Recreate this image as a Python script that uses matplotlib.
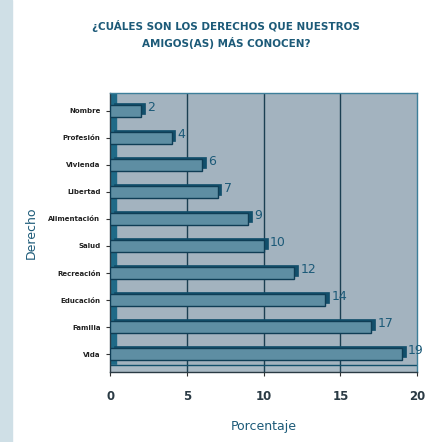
import numpy as np
import matplotlib.pyplot as plt
from matplotlib.patches import Rectangle

# data
derechos = ['Nombre', 'Profesión', 'Vivienda', 'Libertad', 'Alimentación',
            'Salud', 'Recreación', 'Educación', 'Familia', 'Vida']
porcentaje = [2, 4, 6, 7, 9, 10, 12, 14, 17, 19]

bg = '#a3b3bf'
face = '#5e8ea3'
dark = '#124f6b'
text_col = '#1c5a78'

fig = plt.figure(figsize=(4.27, 4.42), dpi=100)
fig.patch.set_facecolor('white')
# light strip on the left edge
fig.patches.append(Rectangle((0, 0), 12 / 427, 1, transform=fig.transFigure,
                             color='#cfdfe6', zorder=0))

ax = fig.add_axes([0.258, 0.158, 0.719, 0.632])
ax.set_facecolor(bg)

y = np.arange(len(derechos))
ax.set_xlim(0, 20)
ax.set_ylim(9.67, -0.67)

# left wall and floor
ax.axvspan(0, 0.4, color='#1f6a87', zorder=1)
ax.axhspan(9.42, 9.67, color='#a9b9c4', zorder=1)
ax.axhline(9.42, color=dark, lw=1.0, zorder=2)

# vertical gridlines
for gx in [5, 10, 15]:
    ax.axvline(gx, color='#1b3f52', lw=1.0, zorder=1)

# 3D depth (top/right side) then front face
ax.barh(y - 0.1, porcentaje, left=0.25, height=0.42, color=dark,
        edgecolor=dark, linewidth=0.5, zorder=3)
ax.barh(y, porcentaje, height=0.42, color=face, edgecolor='#0f3d55',
        linewidth=1.0, zorder=4)

for yi, v in zip(y, porcentaje):
    ax.text(v + 0.4, yi - 0.12, str(v), color=text_col, fontsize=9,
            va='center', ha='left', zorder=5)

ax.set_yticks(y)
ax.set_yticklabels(derechos, fontsize=5, fontweight='bold', color='#222222')
ax.set_xticks([0, 5, 10, 15, 20])
ax.set_xticklabels(['0', '5', '10', '15', '20'], fontsize=8.5,
                   fontweight='bold', color='#2a3a44')
ax.tick_params(axis='y', length=3, color='#333333', pad=4)
ax.tick_params(axis='x', length=3, color='#333333', pad=10)

for s in ['top', 'right']:
    ax.spines[s].set_color('#3d7f9a')
    ax.spines[s].set_linewidth(1.0)
for s in ['left', 'bottom']:
    ax.spines[s].set_color('#2a3a44')
    ax.spines[s].set_linewidth(1.0)

ax.set_xlabel('Porcentaje', fontsize=9, color=text_col, labelpad=12)
ax.set_ylabel('Derecho', fontsize=9, color=text_col, labelpad=8)

fig.text(0.53, 0.955, '¿CUÁLES SON LOS DERECHOS QUE NUESTROS\nAMIGOS(AS) MÁS CONOCEN?',
         ha='center', va='top', fontsize=7.5, fontweight='bold', color=text_col,
         linespacing=1.5)

fig.savefig('out.png', dpi=100)
